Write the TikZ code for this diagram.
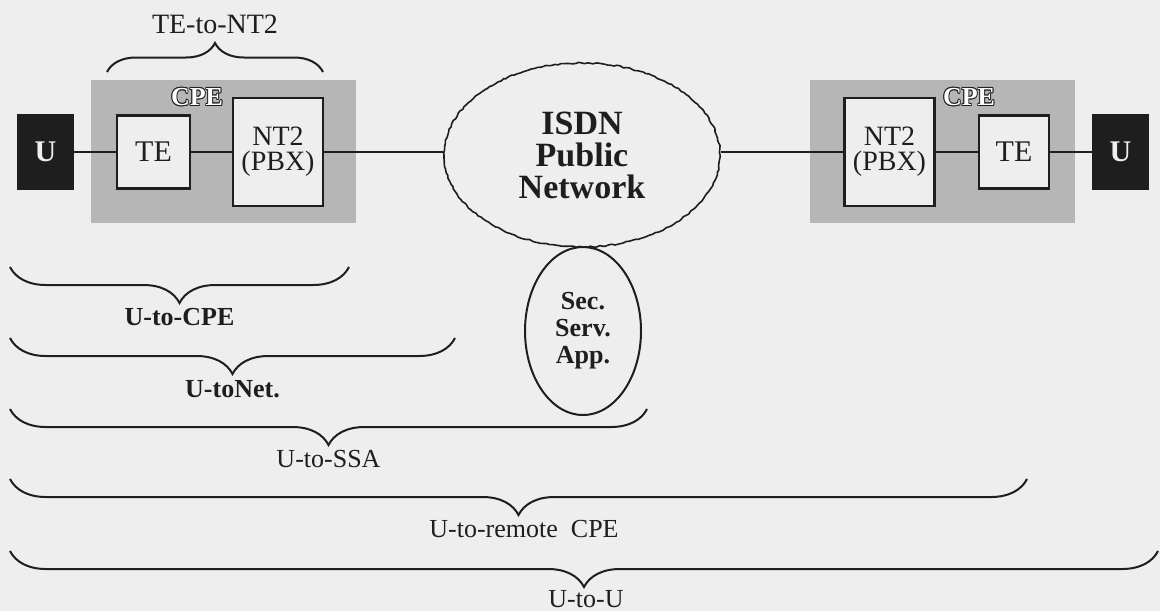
\documentclass[tikz,border=0pt]{standalone}
\usepackage{fontspec}
\setmainfont{Liberation Serif}
\usetikzlibrary{shapes.geometric,decorations.pathreplacing,decorations.pathmorphing}
\definecolor{bgc}{RGB}{238,238,238}
\definecolor{shadec}{RGB}{182,182,182}
\definecolor{ink}{RGB}{30,30,30}
\newcommand\outl[1]{%
\makebox[0pt][l]{\hspace*{-0.45pt}#1}%
\makebox[0pt][l]{\hspace*{0.45pt}#1}%
\makebox[0pt][l]{\raisebox{0.45pt}{#1}}%
\makebox[0pt][l]{\raisebox{-0.45pt}{#1}}%
\makebox[0pt][l]{\hspace*{0.32pt}\raisebox{0.32pt}{#1}}%
\makebox[0pt][l]{\hspace*{-0.32pt}\raisebox{0.32pt}{#1}}%
\makebox[0pt][l]{\hspace*{0.32pt}\raisebox{-0.32pt}{#1}}%
\makebox[0pt][l]{\hspace*{-0.32pt}\raisebox{-0.32pt}{#1}}%
\textcolor{white}{#1}}
\begin{document}
\begin{tikzpicture}[x=0.5pt,y=-0.5pt,
  shadebox/.style={fill=shadec,draw=none,inner sep=0pt,minimum width=132.5pt,minimum height=71.5pt},
  box/.style={draw=ink,line width=1.2pt,fill=bgc,inner sep=0pt,align=center,text=ink},
  ubox/.style={draw=ink,line width=1.2pt,fill=ink,text=bgc,inner sep=0pt,minimum width=27.5pt,minimum height=36.5pt,font=\fontsize{15}{15}\selectfont\bfseries},
  tebox/.style={box,minimum height=36.5pt,font=\fontsize{15}{15}\selectfont},
  ntbox/.style={box,minimum width=45pt,minimum height=54pt,font=\fontsize{14}{12.5}\selectfont},
  cpelbl/.style={inner sep=0pt,text=ink,font=\fontsize{13}{13}\selectfont\bfseries},
  link/.style={draw=ink,line width=1pt},
  brc/.style={draw=ink,line width=1pt,decorate,decoration={brace,mirror,amplitude=18pt}},
  topbrc/.style={draw=ink,line width=1pt,decorate,decoration={brace,amplitude=14.5pt}},
  lbl/.style={inner sep=0pt,text=ink,font=\fontsize{13}{13}\selectfont},
  blbl/.style={inner sep=0pt,text=ink,font=\fontsize{13}{13}\selectfont\bfseries}
]
\useasboundingbox (0,0) rectangle (1160,611);
\fill[bgc] (0,0) rectangle (1160,611);

% shaded CPE areas
\node[shadebox] (cpeL) at (223.5,151.5) {};
\node[shadebox] (cpeR) at (942.5,151.5) {};
\node[cpelbl] (cpeLtxt) at (197,97) {\outl{CPE}};
\node[cpelbl] (cpeRtxt) at (969,97) {\outl{CPE}};

% left side
\node[ubox] (uL) at (45.5,152) {U};
\node[tebox,minimum width=36.5pt] (teL) at (153.5,152) {TE};
\node[ntbox] (nt2L) at (278,152) {NT2\\(PBX)};

% right side
\node[ntbox] (nt2R) at (889.5,152) {NT2\\(PBX)};
\node[tebox,minimum width=35pt] (teR) at (1014,152) {TE};
\node[ubox] (uR) at (1120.5,152) {U};

% network
\node[ellipse,draw=ink,line width=0.8pt,inner sep=0pt,minimum width=138pt,minimum height=92pt,
      decorate,decoration={random steps,segment length=1.5pt,amplitude=0.35pt},
      align=center,text=ink,font=\fontsize{17}{16}\selectfont\bfseries] (isdn) at (582,155) {ISDN\\Public\\Network};
\node[ellipse,draw=ink,line width=1pt,inner sep=0pt,minimum width=58pt,minimum height=84pt,
      align=center,text=ink,font=\fontsize{13}{13.5}\selectfont\bfseries] (ssa) at (583,331) {Sec.\\Serv.\\App.};

% connectors
\draw[link] (uL) -- (teL);
\draw[link] (teL) -- (nt2L);
\draw[link] (nt2L.east) -- (nt2L.east -| isdn.west);
\draw[link] (nt2R.west -| isdn.east) -- (nt2R.west);
\draw[link] (nt2R) -- (teR);
\draw[link] (teR) -- (uR);

% top brace
\coordinate (t1) at (107,72);
\coordinate (t2) at (323,72);
\draw[topbrc] (t1) -- (t2);
\node[lbl,font=\fontsize{14}{14}\selectfont] (tlbl) at (215,24) {TE-to-NT2};

% lower braces
\coordinate (b1a) at (10,267);  \coordinate (b1b) at (349,267);
\draw[brc] (b1a) -- (b1b);
\node[blbl] (l1) at (179.5,317) {U-to-CPE};

\coordinate (b2a) at (10,338);  \coordinate (b2b) at (455,338);
\draw[brc] (b2a) -- (b2b);
\node[blbl] (l2) at (232.5,389) {U-toNet.};

\coordinate (b3a) at (10,409);  \coordinate (b3b) at (647,409);
\draw[brc] (b3a) -- (b3b);
\node[lbl] (l3) at (328.5,459) {U-to-SSA};

\coordinate (b4a) at (10,479);  \coordinate (b4b) at (1027,479);
\draw[brc] (b4a) -- (b4b);
\node[lbl] (l4) at (524,529) {U-to-remote\ \ CPE};

\coordinate (b5a) at (10,551);  \coordinate (b5b) at (1158,551);
\draw[brc] (b5a) -- (b5b);
\node[lbl] (l5) at (586,599) {U-to-U};
\end{tikzpicture}
\end{document}
